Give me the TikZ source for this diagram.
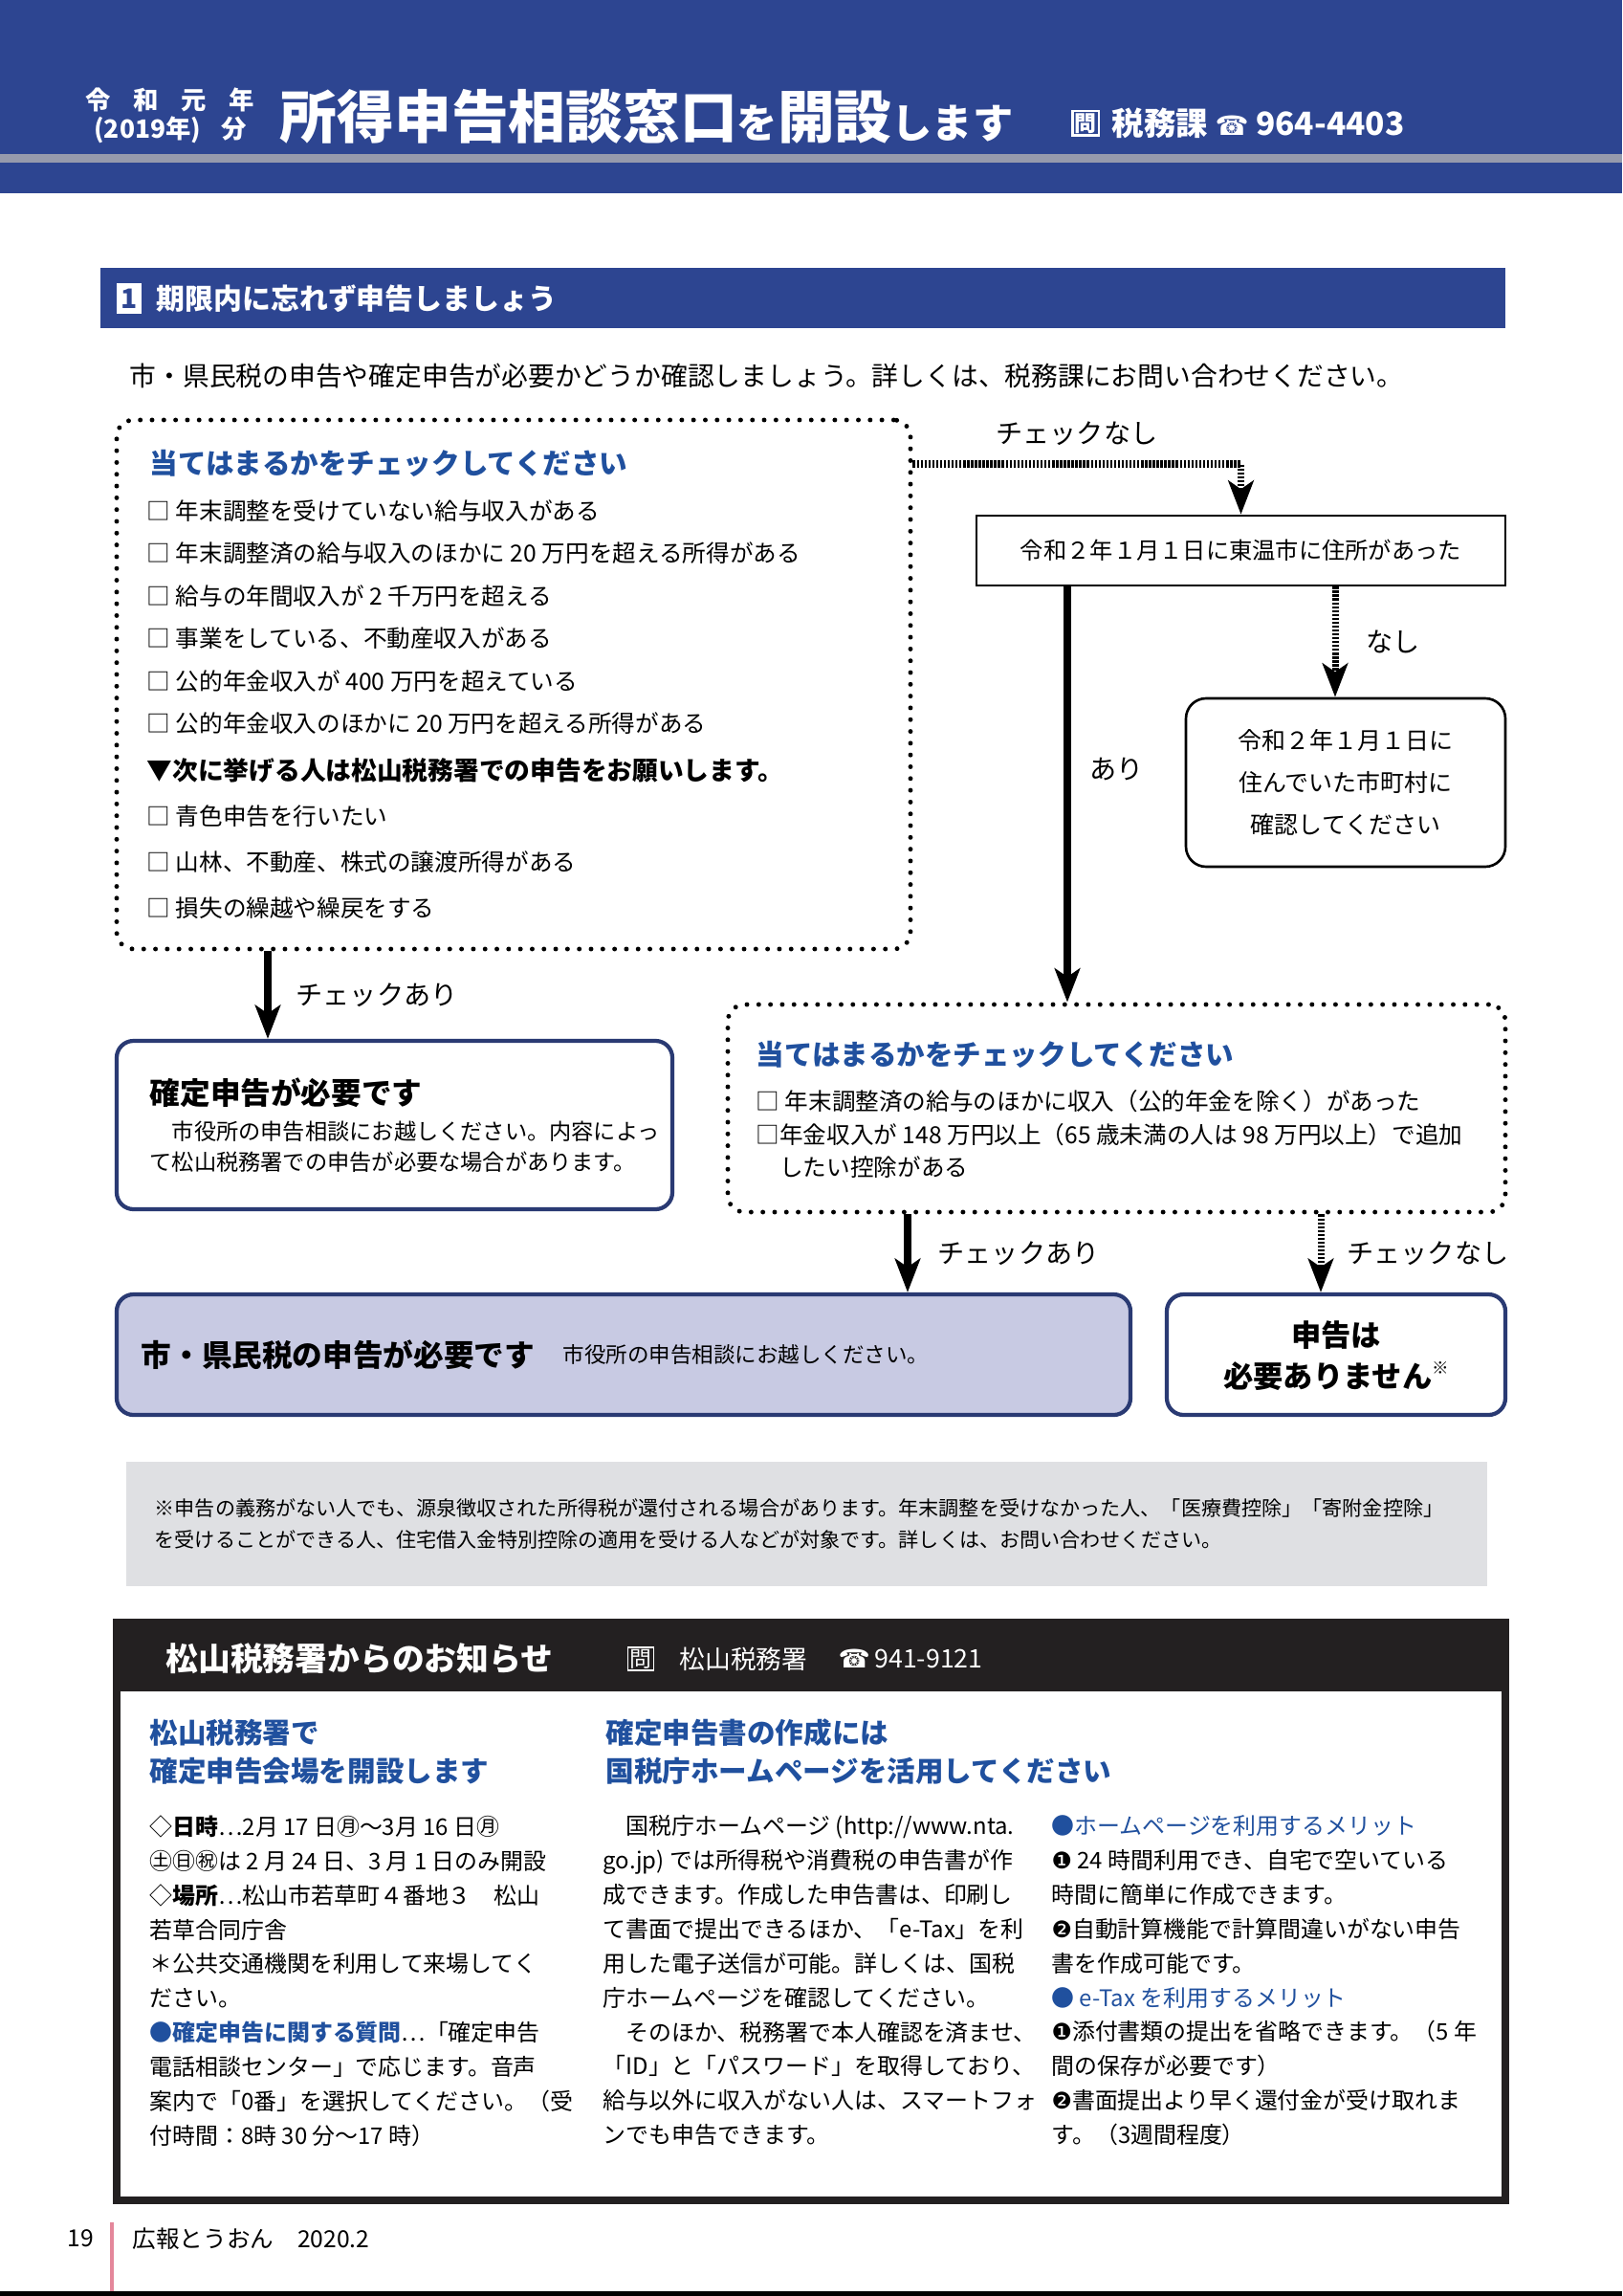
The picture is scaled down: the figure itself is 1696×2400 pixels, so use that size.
\documentclass[tikz,border=0pt]{standalone}
\usepackage{fontspec}
\setmainfont{Noto Sans CJK JP}
\newfontfamily\symfont{DejaVu Sans}
\usetikzlibrary{arrows.meta,positioning,fit}
\definecolor{hdblue}{RGB}{45,69,145}
\definecolor{hdgray}{RGB}{150,154,172}
\definecolor{ttlblue}{RGB}{32,80,158}
\definecolor{frmblue}{RGB}{42,58,115}
\definecolor{lavender}{RGB}{200,202,227}
\definecolor{notegray}{RGB}{223,224,227}
\definecolor{taxblack}{RGB}{35,32,33}
\definecolor{pagepink}{RGB}{228,135,155}
\newcommand{\fsz}[2]{\fontsize{#1}{#2}\selectfont}
\tikzset{
  dotbox/.style={draw, line width=1.4pt, dash pattern=on 0pt off 3.5pt, line cap=round, rounded corners=5pt, inner sep=0},
  plainbox/.style={draw, line width=0.75pt, inner sep=0},
  bluebox/.style={draw=frmblue, line width=1.2pt, rounded corners=5pt, inner sep=0},
  solarr/.style={line width=2.1pt, -{Stealth[length=10pt,width=7.5pt,inset=2.5pt]}},
  dasharr/.style={line width=2pt, dash pattern=on 0.7pt off 0.45pt, -{Stealth[length=10pt,width=7.5pt,inset=2.5pt]}},
  lbl/.style={font=\fsz{8}{10}, inner sep=0},
  txt/.style={inner sep=0, align=left}
}

\begin{document}
\begin{tikzpicture}[x=0.01cm,y=-0.01cm]
\useasboundingbox (0,0) rectangle (1696,2400);
% header band
\fill[hdblue] (0,0) rectangle (1696,161);
\fill[hdgray] (0,161) rectangle (1696,170);
\fill[hdblue] (0,170) rectangle (1696,202);
\node[white, font=\bfseries\fsz{7.5}{9}, inner sep=0] (yr1) at (178,104) {令\hspace{0.9em}和\hspace{0.9em}元\hspace{0.9em}年};
\node[white, font=\bfseries\fsz{7.5}{9}, inner sep=0] (yr2) at (178,136) {(2019年)\hspace{0.8em}分};
\node[white, font=\bfseries\fsz{17}{20}, anchor=west, inner sep=0] (title) at (292,122) {所得申告相談窓口{\fsz{12}{14}を}開設{\fsz{12}{14}します}};
\node[draw=white, line width=0.6pt, white, font=\bfseries\fsz{6.5}{7}, inner sep=0.6pt] (askicon) at (1135,129) {問};
\node[white, font=\bfseries\fsz{9.5}{11}, anchor=west, inner sep=0] (dept) at (1162,129) {税務課 {\symfont\fsz{8}{9}☎} 964-4403};

% section bar
\fill[hdblue] (105,280) rectangle (1574,343);
\node[fill=white, text=hdblue, font=\bfseries\fsz{8}{9}, minimum width=0.26cm, minimum height=0.32cm, inner sep=0] (secno) at (135,312) {1};
\node[white, font=\bfseries\fsz{8.5}{10}, anchor=west, inner sep=0] (sechd) at (163,312) {期限内に忘れず申告しましょう};
\node[font=\fsz{7.9}{9}, anchor=west, inner sep=0] (intro) at (135,393) {市・県民税の申告や確定申告が必要かどうか確認しましょう。詳しくは、税務課にお問い合わせください。};

% flow boxes
\node[dotbox, fit={(122,439) (952,992)}] (chk1) {};
\node[plainbox, fit={(1021,539) (1574,612)}] (addr) {};
\node[plainbox, rounded corners=6pt, fit={(1240,730) (1574,906)}] (ask) {};
\node[bluebox, fit={(122,1088) (703,1264)}] (need) {};
\node[dotbox, fit={(761,1050) (1574,1267)}] (chk2) {};
\node[bluebox, fill=lavender, fit={(122,1353) (1182,1479)}] (city) {};
\node[bluebox, fit={(1220,1353) (1574,1479)}] (nonreq) {};

% box texts
\node[txt, text=ttlblue, font=\bfseries\fsz{8.4}{10}, anchor=west] (chk1ttl) at (156,484) {当てはまるかをチェックしてください};
\node[txt, font=\fsz{7}{12.63}, anchor=north west] (chk1a) at (153,522) {□ 年末調整を受けていない給与収入がある\\□ 年末調整済の給与収入のほかに 20 万円を超える所得がある\\□ 給与の年間収入が 2 千万円を超える\\□ 事業をしている、不動産収入がある\\□ 公的年金収入が 400 万円を超えている\\□ 公的年金収入のほかに 20 万円を超える所得がある};
\node[txt, font=\bfseries\fsz{7.6}{9}, anchor=west] (chk1b) at (153,805) {▼次に挙げる人は松山税務署での申告をお願いします。};
\node[txt, font=\fsz{7}{13.66}, anchor=north west] (chk1c) at (153,841) {□ 青色申告を行いたい\\□ 山林、不動産、株式の譲渡所得がある\\□ 損失の繰越や繰戻をする};
\node[font=\fsz{6.9}{8}, inner sep=0] (addrtxt) at (addr) {令和２年１月１日に東温市に住所があった};
\node[txt, align=center, font=\fsz{7.1}{12.5}] (asktxt) at (ask) {令和２年１月１日に\\住んでいた市町村に\\確認してください};
\node[txt, font=\bfseries\fsz{9}{11}, anchor=west] (needttl) at (156,1142) {確定申告が必要です};
\node[txt, font=\fsz{6.6}{9.1}, anchor=north west] (needtxt) at (156,1171) {　市役所の申告相談にお越しください。内容によっ\\て松山税務署での申告が必要な場合があります。};
\node[txt, text=ttlblue, font=\bfseries\fsz{8.4}{10}, anchor=west] (chk2ttl) at (790,1102) {当てはまるかをチェックしてください};
\node[txt, font=\fsz{7}{9.8}, anchor=north west] (chk2a) at (790,1139) {□ 年末調整済の給与のほかに収入（公的年金を除く）があった\\□年金収入が 148 万円以上（65 歳未満の人は 98 万円以上）で追加\\　したい控除がある};
\node[txt, font=\bfseries\fsz{9}{11}, anchor=west] (cityttl) at (147,1416) {市・県民税の申告が必要です};
\node[txt, font=\fsz{6.4}{8}, right=0.28cm of cityttl] (citytxt) {市役所の申告相談にお越しください。};
\node[txt, align=center, font=\bfseries\fsz{8.9}{12.2}] (nonreqtxt) at (1397,1417) {申告は\\必要ありません\raisebox{0.45em}{\mdseries\fsz{5}{6}※}};

% arrows
\coordinate (noY) at (0,485);
\coordinate (ariX) at (1116,0);
\coordinate (naX) at (1396,0);
\coordinate (yesLX) at (280,0);
\coordinate (yesRX) at (949,0);
\coordinate (noRX) at (1381,0);
\draw[dasharr] (chk1.east |- noY) -| node[lbl, pos=0.25, above=0.16cm] (lblno1) {チェックなし} (addr.north);
\draw[solarr] (addr.south -| ariX) -- node[lbl, pos=0.44, right=0.2cm] (lblyes1) {あり} (chk2.north -| ariX);
\draw[dasharr] (addr.south -| naX) -- node[lbl, right=0.29cm] (lblno2) {なし} (ask.north -| naX);
\draw[solarr] (chk1.south -| yesLX) -- node[lbl, right=0.26cm] (lblyes2) {チェックあり} (need.north -| yesLX);
\draw[solarr] (chk2.south -| yesRX) -- node[lbl, right=0.28cm] (lblyes3) {チェックあり} (city.north -| yesRX);
\draw[dasharr] (chk2.south -| noRX) -- node[lbl, right=0.24cm] (lblno3) {チェックなし} (nonreq.north -| noRX);

% note
\node[fill=notegray, inner sep=0, fit={(132,1528) (1555,1658)}] (note) {};
\node[txt, font=\fsz{6}{9.4}, anchor=north west] (notetxt) at (161,1566) {※申告の義務がない人でも、源泉徴収された所得税が還付される場合があります。年末調整を受けなかった人、「医療費控除」「寄附金控除」\\を受けることができる人、住宅借入金特別控除の適用を受ける人などが対象です。詳しくは、お問い合わせください。};

% tax office box
\fill[taxblack] (122,1696) rectangle (1574,1768);
\node[draw=taxblack, line width=2.3pt, inner sep=0, fit={(122,1696) (1574,2300)}] (taxbox) {};
\node[white, font=\bfseries\fsz{9.6}{11}, anchor=west, inner sep=0] (taxhd) at (173,1734) {松山税務署からのお知らせ};
\node[draw=white, line width=0.5pt, white, font=\fsz{6.5}{7}, inner sep=0.6pt] (taxicon) at (670,1734) {問};
\node[white, font=\fsz{7.6}{9}, anchor=west, inner sep=0] (taxoff) at (710,1734) {松山税務署};
\node[white, font=\fsz{7.6}{9}, anchor=west, inner sep=0] (taxtel) at (876,1734) {{\symfont ☎}\,941-9121};
\node[txt, text=ttlblue, font=\bfseries\fsz{8.4}{11.4}, anchor=north west] (hallhd) at (156,1796) {松山税務署で\\確定申告会場を開設します};
\node[txt, text=ttlblue, font=\bfseries\fsz{8.4}{11.4}, anchor=north west] (webhd) at (633,1796) {確定申告書の作成には\\国税庁ホームページを活用してください};
\node[txt, font=\fsz{6.8}{10.2}, anchor=north west] (hallbody) at (156,1897) {◇\textbf{日時}…2月 17 日㊊～3月 16 日㊊\\㊏㊐㊗は 2 月 24 日、3 月 1 日のみ開設\\◇\textbf{場所}…松山市若草町４番地３　松山\\若草合同庁舎\\＊公共交通機関を利用して来場してく\\ださい。\\{\color{ttlblue}\bfseries ●確定申告に関する質問}…「確定申告\\電話相談センター」で応じます。音声\\案内で「0番」を選択してください。（受\\付時間：8時 30 分～17 時）};
\node[txt, font=\fsz{6.8}{10.2}, anchor=north west] (webbody) at (630,1897) {　国税庁ホームページ (http://www.nta.\\go.jp) では所得税や消費税の申告書が作\\成できます。作成した申告書は、印刷し\\て書面で提出できるほか、「e-Tax」を利\\用した電子送信が可能。詳しくは、国税\\庁ホームページを確認してください。\\　そのほか、税務署で本人確認を済ませ、\\「ID」と「パスワード」を取得しており、\\給与以外に収入がない人は、スマートフォ\\ンでも申告できます。};
\node[txt, font=\fsz{6.8}{10.2}, anchor=north west] (meritbody) at (1099,1897) {{\color{ttlblue}●ホームページを利用するメリット}\\{\symfont ❶} 24 時間利用でき、自宅で空いている\\時間に簡単に作成できます。\\{\symfont ❷}自動計算機能で計算間違いがない申告\\書を作成可能です。\\{\color{ttlblue}● e-Tax を利用するメリット}\\{\symfont ❶}添付書類の提出を省略できます。（5 年\\間の保存が必要です）\\{\symfont ❷}書面提出より早く還付金が受け取れま\\す。（3週間程度）};

% footer
\node[font=\fsz{7}{8}, inner sep=0] (pgno) at (84,2340) {19};
\draw[pagepink, line width=1pt] (117,2323) -- (117,2395);
\node[font=\fsz{7}{8}, anchor=west, inner sep=0] (pubname) at (138,2340) {広報とうおん　2020.2};
\fill[black] (0,2395) rectangle (1696,2400);
\end{tikzpicture}
\end{document}
